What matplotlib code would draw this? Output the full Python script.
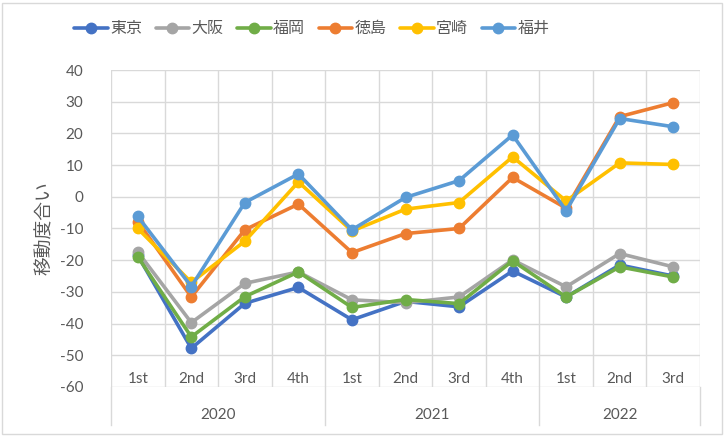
import matplotlib
matplotlib.use("Agg")
import matplotlib.pyplot as plt
from matplotlib.patches import Rectangle

plt.rcParams['font.family'] = ['Lato', 'Noto Sans CJK JP', 'DejaVu Sans']

quarters = ["1st", "2nd", "3rd", "4th", "1st", "2nd", "3rd", "4th", "1st", "2nd", "3rd"]
years = ["2020", "2021", "2022"]
year_counts = [4, 4, 3]

tokyo    = [-18.5, -47.8, -33.6, -28.6, -38.8, -33.0, -34.7, -23.4, -31.6, -21.5, -25.0]
osaka    = [-17.4, -39.7, -27.3, -23.7, -32.5, -33.4, -31.6, -19.9, -28.4, -17.9, -22.1]
fukuoka  = [-18.9, -44.2, -31.5, -23.7, -34.9, -32.4, -33.7, -20.2, -31.6, -22.1, -25.3]
tokushima = [-7.8, -31.6, -10.4, -2.3, -17.6, -11.6, -10.0, 6.1, -3.6, 25.3, 29.7]
miyazaki = [-10.0, -27.0, -14.0, 4.7, -10.8, -3.9, -1.8, 12.6, -1.3, 10.7, 10.2]
fukui    = [-6.2, -28.3, -1.8, 7.2, -10.4, -0.2, 5.1, 19.5, -4.4, 24.7, 22.1]

series = [("東京", tokyo, "#4472C4"),
          ("大阪", osaka, "#A5A5A5"),
          ("福岡", fukuoka, "#70AD47"),
          ("徳島", tokushima, "#ED7D31"),
          ("宮崎", miyazaki, "#FFC000"),
          ("福井", fukui, "#5B9BD5")]

yticks = list(range(-60, 41, 10))

fig = plt.figure(figsize=(7.24, 4.36), dpi=100)
ax = fig.add_axes([111/724, 1 - 387/436, 589/724, 317/436])

grid_c = "#D9D9D9"
text_c = "#595959"

x = list(range(len(quarters)))
for name, vals, col in series:
    ax.plot(x, vals, color=col, lw=2.6, marker="o", ms=7.5, label=name,
            solid_capstyle="round", zorder=3)

ax.set_xlim(-0.5, len(quarters) - 0.5)
ax.set_ylim(-60, 40)
for v in yticks:
    ax.axhline(v, color=grid_c, lw=1.0, zorder=1)
for i in range(len(quarters) + 1):
    ax.axvline(i - 0.5, color=grid_c, lw=1.0, zorder=1)

for s in ax.spines.values():
    s.set_visible(False)
ax.set_xticks([])
ax.set_yticks(yticks)
ax.set_yticklabels([str(v) for v in yticks])
ax.tick_params(axis="y", length=0, pad=20, labelsize=11, labelcolor=text_c)

# quarter labels (inside the bottom band)
for i, q in enumerate(quarters):
    ax.text(i, -57.6, q, ha="center", va="center", fontsize=11, color=text_c, zorder=2)

# year level
trans = ax.get_xaxis_transform()
pos = -0.5
bounds = [pos]
for name, c in zip(years, year_counts):
    ax.text(pos + c / 2, -0.087, name, transform=trans, ha="center", va="center",
            fontsize=11, color=text_c, clip_on=False)
    pos += c
    bounds.append(pos)
for b in bounds:
    ax.plot([b, b], [0, -0.12], transform=trans, color=grid_c, lw=1.0, clip_on=False)

ax.set_ylabel("移動度合い", fontsize=13.5, color=text_c, labelpad=5)

fig.legend(loc="center left", bbox_to_anchor=(74/724, 1 - 29/436), ncol=6, frameon=False,
           fontsize=11.5, handlelength=2.1, columnspacing=0.85, handletextpad=0.15,
           borderpad=0, borderaxespad=0, labelcolor=text_c)

fig.patches.append(Rectangle((2/724, 2/436), 720/724, 431/436, transform=fig.transFigure,
                             fill=False, edgecolor=grid_c, lw=1.0))

fig.savefig("out.png", dpi=100)
